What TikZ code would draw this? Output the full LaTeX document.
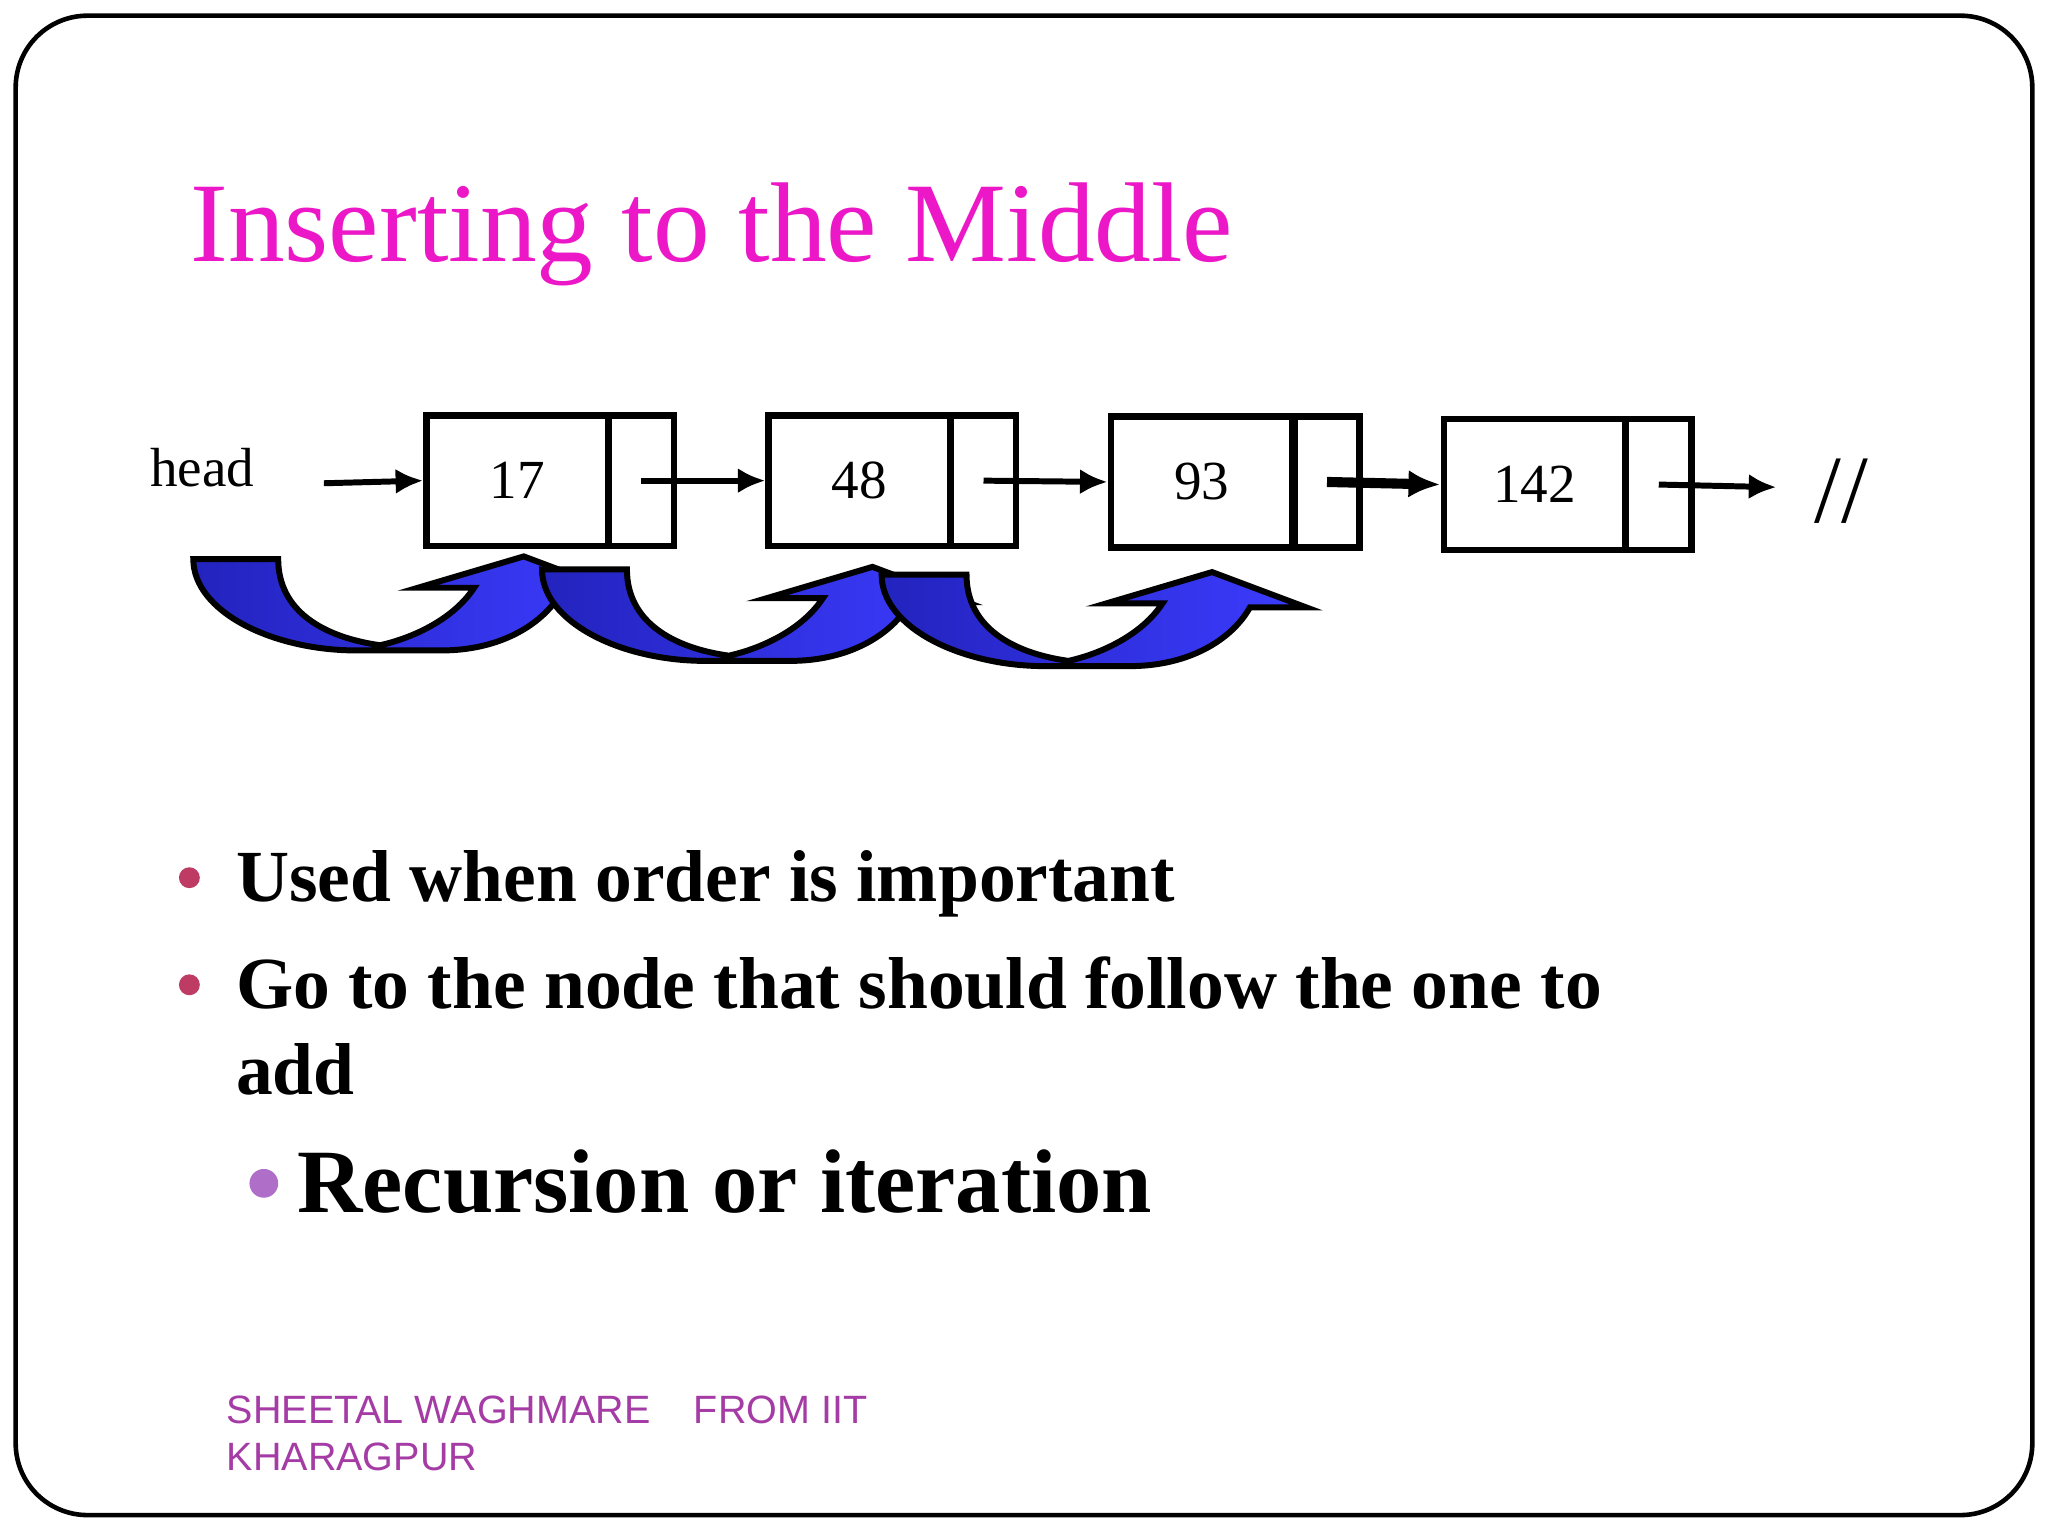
\documentclass[tikz,border=0pt]{standalone}
\usepackage{fontspec}
\setmainfont{Liberation Serif}
\newfontfamily\footfont{Liberation Sans}
\usetikzlibrary{arrows.meta}
\definecolor{titlecol}{RGB}{236,24,200}
\definecolor{bulA}{RGB}{190,60,100}
\definecolor{bulB}{RGB}{175,110,200}
\definecolor{footcol}{RGB}{165,60,165}
\tikzset{
  cell/.style={draw,line width=1.4pt,minimum width=1.39cm,minimum height=1cm,inner sep=0,font=\fontsize{12}{12}\selectfont},
  ptr/.style={draw,line width=1.4pt,minimum width=0.5cm,minimum height=1cm,inner sep=0},
  link/.style={line width=1.3pt,-{Latex[length=6pt,width=5.5pt]}},
  bluearrow/.style={draw=black,line width=1.3pt,left color={rgb,255:red,35;green,35;blue,190},right color={rgb,255:red,60;green,60;blue,255}},
  bigtxt/.style={anchor=base west,inner sep=0,font=\bfseries\fontsize{16}{19}\selectfont}
}
\newcommand{\curlyarrow}[2]{%
  \path[bluearrow,shift={(#1,#2)}] (0,0) .. controls (0,40) and (60,70) .. (125,70) -- (190,70)
   .. controls (235,70) and (268,50) .. (282,25) -- (325,25) -- (253,-2) -- (172,22) -- (215,22)
   .. controls (200,45) and (170,60) .. (143,66) .. controls (100,60) and (65,40) .. (65,0) -- cycle;}
\begin{document}
\begin{tikzpicture}[x=0.01cm,y=-0.01cm]
\useasboundingbox (0,0) rectangle (1568,1176);
\draw[line width=1pt,rounded corners=0.55cm] (12,12) rectangle (1556,1160);
\node[anchor=base west,inner sep=0,text=titlecol,font=\fontsize{24.7}{30}\selectfont] (title) at (145,200) {Inserting to the Middle};
% boxes
\node[cell] (v1) at (396,368) {17}; \node[ptr] (p1) at (491,368) {};
\node[cell] (v2) at (658,368) {48}; \node[ptr] (p2) at (753,368) {};
\node[cell] (v3) at (920,369) {93}; \node[ptr] (p3) at (1016,369) {};
\node[cell] (v4) at (1175,371) {142}; \node[ptr] (p4) at (1270,371) {};
\node[font=\fontsize{12}{12}\selectfont] (head) at (155,358) {head};
\coordinate (h0) at (248,370);
\draw[link] (h0) -- (v1.west);
\draw[link] (p1.center) -- (v2.west);
\draw[link] (p2.center) -- (v3.west);
\draw[line width=2.2pt,-{Latex[length=7pt,width=6pt]}] (p3.center) -- (v4.west);
\coordinate (endc) at (1360,373);
\draw[link] (p4.center) -- (endc);
\node[font=\fontsize{21}{21}\selectfont] (nil) at (1410,376) {//};
% blue arrows
\curlyarrow{148}{428}
\curlyarrow{415}{436}
\curlyarrow{675}{440}
% bullets
\fill[bulA] (145,672) circle (8);
\node[bigtxt] (b1) at (180,690) {Used when order is important};
\fill[bulA] (145,754) circle (8);
\node[bigtxt] (b2) at (180,772) {Go to the node that should follow the one to};
\node[bigtxt] (b3) at (180,838) {add};
\fill[bulB] (202,906) circle (11);
\node[anchor=base west,inner sep=0,font=\bfseries\fontsize{19.7}{24}\selectfont] (b4) at (227,928) {Recursion or iteration};
\node[anchor=base west,inner sep=0,text=footcol,font=\footfont\fontsize{8.6}{11}\selectfont] (f1) at (173,1090) {SHEETAL WAGHMARE\hspace{1.1em}FROM IIT};
\node[anchor=base west,inner sep=0,text=footcol,font=\footfont\fontsize{8.6}{11}\selectfont] (f2) at (173,1126) {KHARAGPUR};
\end{tikzpicture}
\end{document}
